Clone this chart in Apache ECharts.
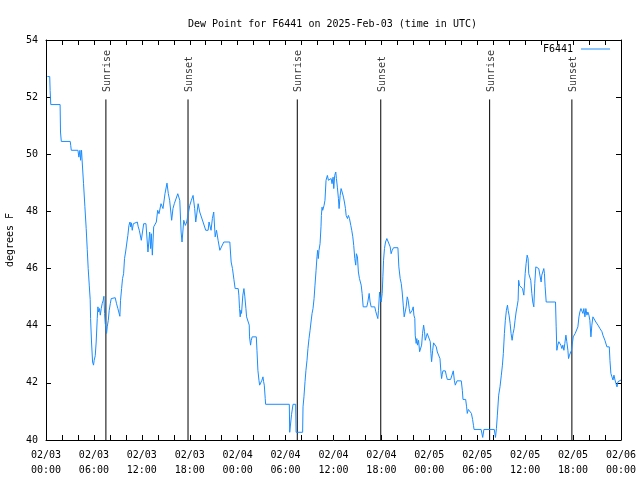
<!DOCTYPE html>
<html><head><meta charset="utf-8">
<script src="https://cdn.jsdelivr.net/npm/echarts@6/dist/echarts.min.js"></script>
<style>html,body{margin:0;padding:0;background:#fff}#c{width:640px;height:480px}</style>
</head><body><div id="c"></div>
<script>
const titleText = 'Dew Point for F6441 on 2025-Feb-03 (time in UTC)';
const seriesName = 'F6441';
const yName = 'degrees F';
const monthStr = '02';
const startDay = 3;

// minutes since 02/03 00:00 UTC
const times = [
10,28,31,36,106,109,115,182,186,190,240,247,255,260,267,272,282,292,302,310,317,325,332,335,342,350,357,362,370,377,385,390,395,402,408,415,422,430,435,440,445,450,455,460,468,475,483,490,500,520,530,540,548,555,560,568,575,583,590,598,608,615,623,631,636,641,648,656,661,686,693,701,
716,734,751,766,779,786,791,799,809,824,829,839,849,864,879,894,909,919,929,944,954,964,979,990,1005,1015,1022,1035,1047,1057,1062,1080,1092,1105,1117,1125,1143,1155,1168,1180,1200,1218,1225,1240,1250,1260,1271,1281,1293,1306,1318,1336,1381,1391,1401,1412,1421,
1444,1449,1454,1459,1464,1469,1479,1487,1494,1502,1507,1519,1527,1529,1537,1542,1549,1580,1585,1592,1600,1605,1615,1622,1630,1635,1640,1647,1650,1828,1831,1840,1845,1856,1876,1879,1928,1931,1938,1946,1953,1961,1968,1976,1984,1991,1999,2006,2014,2021,2029,2036,2041,2046,2051,2059,2066,2069,2074,2079,2084,2089,2096,2104,2114,2122,2129,
2134,2142,2149,2157,2162,2169,2177,2182,2189,2197,2202,2210,2217,2225,2235,2242,2250,2255,2265,2272,2280,2290,2297,2305,2312,2320,2327,2332,2340,2347,2355,2368,2375,2383,2410,2418,2428,2435,2443,2470,2478,2486,2493,2498,2506,2511,2518,2526,2531,2536,2543,2551,2561,2568,2576,2586,2593,2601,2611,2644,2651,2661,2669,2676,2684,2691,2699,2706,2714,2721,2729,2736,2744,2751,2759,2764,2771,
2774,2781,2786,2791,2799,2807,2814,2822,2829,2837,2844,2849,2857,2864,2879,2887,2892,2897,2905,2912,2925,2932,2940,2952,2960,2967,2972,2977,2982,3000,3007,3015,3040,3050,3060,3068,3075,3083,3088,3120,3128,3133,3153,3160,3165,3173,3188,3196,3205,3212,3216,3269,3281,3290,3368,3377,3384,
3391,3401,3411,3421,3429,3436,3444,3451,3459,3467,3472,3479,3487,3494,3502,3509,3517,3524,3532,3539,3547,3551,3558,3564,3572,3580,3590,3600,3607,3615,3622,3627,3635,3642,3650,3657,3665,3672,3680,3690,3702,3715,3720,3725,3733,3740,3745,3750,3758,3828,
3833,3838,3845,3853,3861,3868,3876,3883,3891,3898,3906,3913,3921,3926,3933,3941,3948,3956,3961,3968,3976,3986,3996,4004,4011,4019,4026,4034,4041,4049,4056,4064,4071,4079,4086,4094,4101,4109,4116,4124,4131,4139,4147,4154,4162,4169,4177,4184,4192,4199,4207,4214,4232,4237,4244,4252,4260,4267,4275,4282,4290,4297,4305,4312,4320
];
const dewF = [
52.72,52.72,52.23,51.74,51.74,50.78,50.45,50.45,50.30,50.14,50.14,49.90,50.14,49.79,50.14,49.73,48.97,48.18,47.40,46.66,46.00,45.42,44.91,44.25,43.43,42.73,42.62,42.79,42.95,43.43,44.25,44.66,44.48,44.60,44.37,44.60,44.77,44.89,45.03,44.43,44.08,43.96,43.73,43.96,44.19,44.54,44.77,44.95,44.98,44.98,44.77,44.60,44.66,44.33,44.89,45.30,45.65,45.82,46.35,46.58,46.93,47.16,47.51,47.63,47.46,47.60,47.34,47.57,47.63,47.63,47.46,47.34,
46.99,47.57,47.57,46.58,47.28,46.70,47.22,46.47,47.46,47.46,47.63,48.04,47.92,48.27,48.10,48.62,48.99,48.62,48.39,47.69,48.10,48.27,48.27,48.62,48.39,47.28,46.93,47.69,47.51,47.63,47.75,48.21,48.39,48.56,48.10,47.63,48.27,47.98,47.92,47.63,47.34,47.34,47.63,47.34,47.75,47.98,47.11,47.34,46.99,46.64,46.64,46.93,46.93,46.23,46.00,45.61,45.30,
45.30,45.07,44.60,44.31,44.54,44.43,45.07,45.30,45.01,44.60,44.31,44.31,44.02,43.61,43.32,43.49,43.61,43.61,43.14,42.44,42.09,41.92,41.92,42.09,42.21,42.04,41.92,41.45,41.25,41.25,40.27,40.27,40.90,41.25,41.25,40.27,40.27,41.16,41.51,42.04,42.44,42.79,43.20,43.55,43.84,44.13,44.43,44.60,44.95,45.42,45.94,46.41,46.64,46.35,46.64,46.87,47.46,47.86,48.15,48.04,47.98,48.21,48.39,49.09,49.26,49.09,49.15,
49.09,49.15,48.97,49.20,48.80,49.26,49.38,49.15,48.85,48.45,48.10,48.56,48.80,48.68,48.50,48.33,48.10,47.86,47.75,47.86,47.75,47.51,47.34,47.11,46.81,46.35,46.12,46.52,46.41,45.88,45.65,45.42,45.13,44.66,44.66,44.83,45.13,44.83,44.66,44.66,44.49,44.43,44.25,44.54,45.18,45.01,44.83,45.13,45.71,46.29,46.70,46.93,47.05,47.11,46.99,46.76,46.52,46.64,46.73,46.73,46.06,45.65,45.48,45.18,44.72,44.31,44.31,44.66,45.01,44.89,44.60,44.43,44.37,44.54,44.66,44.37,44.25,
43.67,43.38,43.55,43.32,43.49,43.09,43.09,43.32,43.73,44.02,43.79,43.49,43.61,43.73,43.73,43.44,43.03,42.74,43.14,43.40,43.40,43.26,43.08,43.08,42.85,42.39,42.15,42.30,42.42,42.42,42.27,42.12,42.12,42.27,42.42,42.09,41.92,41.98,42.07,42.07,41.74,41.42,41.42,41.16,40.93,41.07,41.07,40.93,40.72,40.50,40.37,40.37,40.09,40.37,40.37,40.09,40.40,
40.87,41.57,41.86,42.27,42.62,43.03,43.73,44.19,44.54,44.72,44.54,44.37,44.08,43.73,43.49,43.73,43.90,44.19,44.48,44.66,44.89,45.59,45.40,45.47,45.36,45.30,45.07,45.82,46.17,46.47,46.35,45.82,45.82,45.59,45.13,44.83,44.66,45.47,46.06,46.06,46.00,46.00,45.53,45.77,45.82,46.00,45.82,45.36,44.83,44.83,
43.96,43.14,43.32,43.44,43.44,43.32,43.20,43.32,43.14,43.38,43.67,43.44,43.14,42.85,42.97,42.97,43.14,43.14,43.61,43.67,43.73,43.79,43.96,44.31,44.48,44.60,44.66,44.43,44.60,44.31,44.60,44.37,44.48,44.37,44.19,43.61,44.02,44.31,44.37,44.25,44.13,44.08,44.02,44.02,43.90,43.84,43.79,43.67,43.61,43.49,43.44,43.26,43.26,42.79,42.33,42.21,42.10,42.27,42.10,41.98,41.86,42.04,41.98,42.10,42.10
];

const sunLabels = ['Sunrise','Sunset','Sunrise','Sunset','Sunrise','Sunset'];
const sunTimes = [450,1067,1888,2515,3333,3951];
const sunLineTop = 51.92;
const sunLabelBase = 52.18;

const yMin = 40, yMax = 54, yStep = 2;
const xMin = 0, xMax = 4320, xTickStep = 120, xLabelStep = 360;

const FONT = 'DejaVu Sans Mono';
const LINE_COLOR = '#1a8cff';

function pad(n){ return String(n).padStart(2,'0'); }
function xLabel(v){
  if (v % xLabelStep !== 0) return '';
  const d = startDay + Math.floor(v / 1440);
  const m = v % 1440;
  return monthStr + '/' + pad(d) + '\n' + pad(Math.floor(m/60)) + ':' + pad(m % 60);
}

const mainData = times.map((t, i) => [t, dewF[i]]);

const axisLine = {show: true, onZero: false, lineStyle: {color: '#000', width: 1}};
const tick = {show: true, inside: true, length: 5, lineStyle: {color: '#000', width: 1}};
const labelFont = {fontFamily: FONT, fontSize: 10, color: '#000'};

const series = [];
sunTimes.forEach((t, i) => {
  series.push({
    type: 'line', name: 'sun' + i, data: [[t, yMin], [t, sunLineTop]],
    symbol: 'none', silent: true, z: 2,
    lineStyle: {color: '#000', width: 1}
  });
});
series.push({
  type: 'scatter', name: 'sunLabels', silent: true, z: 4,
  symbolSize: 0,
  data: sunTimes.map((t, i) => ({value: [t, sunLabelBase], name: sunLabels[i]})),
  label: {show: true, formatter: '{b}', rotate: 90, position: 'inside', offset: [0, 1.5],
          align: 'left', verticalAlign: 'middle', ...labelFont}
});
series.push({
  type: 'line', name: seriesName, data: mainData, symbol: 'none', showSymbol: false,
  z: 5, lineStyle: {color: LINE_COLOR, width: 1}, itemStyle: {color: LINE_COLOR}
});

const chart = echarts.init(document.getElementById('c'), null, {renderer: 'canvas'});
chart.setOption({
  animation: false,
  backgroundColor: '#fff',
  title: {text: titleText, left: 183, top: 14,
          textStyle: {fontFamily: FONT, fontSize: 10, fontWeight: 'normal', color: '#000'}},
  legend: {data: [{name: seriesName, icon: 'rect'}], right: 30, top: 44, align: 'right', padding: 0,
           itemWidth: 29, itemHeight: 1,
           itemStyle: {color: LINE_COLOR},
           textStyle: {fontFamily: FONT, fontSize: 10, color: '#000', padding: [0, 3, 0, 0]}},
  grid: {left: 46, right: 19, top: 40, bottom: 40, containLabel: false, outerBoundsMode: 'none'},
  xAxis: [
    {type: 'value', min: xMin, max: xMax, interval: xTickStep, position: 'bottom',
     axisLine, axisTick: tick, splitLine: {show: false},
     axisLabel: {formatter: xLabel, ...labelFont, lineHeight: 15, margin: 8, hideOverlap: false}},
    {type: 'value', min: xMin, max: xMax, interval: xTickStep, position: 'top',
     axisLine, axisTick: tick, splitLine: {show: false}, axisLabel: {show: false}}
  ],
  yAxis: [
    {type: 'value', min: yMin, max: yMax, interval: yStep, position: 'left',
     axisLine, axisTick: tick, splitLine: {show: false},
     axisLabel: {...labelFont, margin: 8},
     name: yName, nameLocation: 'middle', nameRotate: 90, nameGap: 31,
     nameTextStyle: {...labelFont}},
    {type: 'value', min: yMin, max: yMax, interval: yStep, position: 'right',
     axisLine, axisTick: tick, splitLine: {show: false}, axisLabel: {show: false}}
  ],
  series
});
</script></body></html>
